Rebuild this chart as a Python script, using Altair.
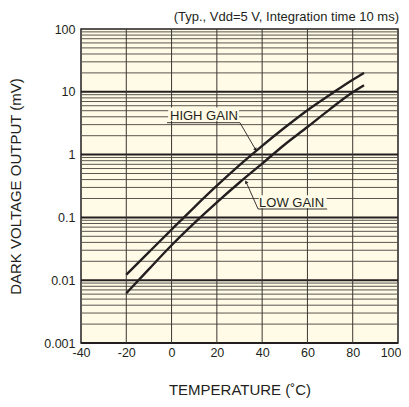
import altair as alt
import pandas as pd

# ---- data ----
temps = [-20, -10, 0, 10, 20, 30, 40, 50, 60, 70, 80, 85]
high_gain = [0.0122, 0.028, 0.064, 0.145, 0.32, 0.68, 1.38, 2.7, 5.1, 9.0, 15.6, 20.0]
low_gain = [0.0062, 0.0150, 0.036, 0.081, 0.174, 0.36, 0.72, 1.45, 2.75, 5.3, 9.8, 12.7]

x_ticks = [-40, -20, 0, 20, 40, 60, 80, 100]
y_ticks = [0.001, 0.01, 0.1, 1, 10, 100]
x_grid = [-20, 0, 20, 40, 60, 80]
decades = [0.001, 0.01, 0.1, 1, 10]
minor_steps = [2, 3, 4, 5, 6, 7, 8, 9]

# annotation labels (data coordinates)
label_text = ["HIGH GAIN", "LOW GAIN"]
label_x = [14.3, 53.0]
label_y = [3.55, 0.149]
mask_x = [-1.5, 38.5]
mask_x2 = [29.8, 68.5]
mask_y = [5.6, 0.225]
mask_y2 = [3.45, 0.140]
leader_x = [-2.0, 30.2, 37.0, 68.7, 38.2, 33.0]
leader_y = [3.22, 3.22, 1.22, 0.136, 0.136, 0.36]
leader_id = ["h", "h", "h", "l", "l", "l"]
arrow_x = [37.0, 33.0]
arrow_y = [1.22, 0.36]
arrow_angle = [150, 330]

subtitle = ["(Typ., Vdd=5 V, Integration time 10 ms)"]

FONT = "Liberation Sans"
INK = "#231F20"
BG = "#FFFBE6"

curves = pd.DataFrame(
    {"t": temps * 2, "v": high_gain + low_gain,
     "s": ["HIGH GAIN"] * len(temps) + ["LOW GAIN"] * len(temps)}
)
minor_vals = [d * m for d in decades for m in minor_steps]

xs = alt.Scale(domain=[-40, 100], nice=False, zero=False)
ys = alt.Scale(type="log", domain=[0.001, 100], nice=False)

xax = alt.Axis(values=x_ticks, title="TEMPERATURE (˚C)", grid=False, ticks=False,
               domain=False, labelExpr="'' + datum.value", labelFont=FONT, labelFontSize=12.5,
               labelColor=INK, labelPadding=3, titleFont=FONT, titleFontSize=15,
               titleFontWeight="normal", titleColor=INK, titlePadding=24, labelFlush=False,
               labelAlign={"condition": {"test": "datum.value == 100", "value": "right"},
                           "value": "center"},
               labelOffset={"condition": {"test": "datum.value == 100", "value": 3},
                            "value": 0})
yax = alt.Axis(values=y_ticks, title="DARK VOLTAGE OUTPUT (mV)", grid=False, ticks=False,
               domain=False, format="~g", labelFont=FONT, labelFontSize=12.5, labelColor=INK,
               labelPadding=6, titleFont=FONT, titleFontSize=15, titleFontWeight="normal",
               titleColor=INK, titlePadding=20)

minor = alt.Chart(pd.DataFrame({"v": minor_vals})).mark_rule(
    color="#5a5650", strokeWidth=1).encode(y=alt.Y("v:Q", scale=ys, axis=yax))
major = alt.Chart(pd.DataFrame({"v": decades})).mark_rule(
    color=INK, strokeWidth=2).encode(y=alt.Y("v:Q", scale=ys))
vert = alt.Chart(pd.DataFrame({"t": x_grid})).mark_rule(
    color="#3a3632", strokeWidth=1).encode(x=alt.X("t:Q", scale=xs, axis=xax))

masks = alt.Chart(pd.DataFrame({"x": mask_x, "x2": mask_x2, "y": mask_y, "y2": mask_y2})).mark_rect(
    color=BG).encode(x=alt.X("x:Q", scale=xs), x2="x2", y=alt.Y("y:Q", scale=ys), y2="y2")

lines = alt.Chart(curves).mark_line(color=INK, strokeWidth=2.4, interpolate="monotone").encode(
    x=alt.X("t:Q", scale=xs), y=alt.Y("v:Q", scale=ys), detail="s:N")

leaders = alt.Chart(pd.DataFrame({"x": leader_x, "y": leader_y, "id": leader_id,
                                  "o": list(range(len(leader_x)))})).mark_line(
    color=INK, strokeWidth=0.9).encode(
    x=alt.X("x:Q", scale=xs), y=alt.Y("y:Q", scale=ys), detail="id:N", order="o:Q")

arrows = alt.Chart(pd.DataFrame({"x": arrow_x, "y": arrow_y, "a": arrow_angle})).mark_point(
    shape="triangle", filled=True, color=INK, size=14, opacity=1).encode(
    x=alt.X("x:Q", scale=xs), y=alt.Y("y:Q", scale=ys), angle=alt.Angle("a:Q", scale=None))

labels = alt.Chart(pd.DataFrame({"x": label_x, "y": label_y, "t": label_text})).mark_text(
    font=FONT, fontSize=13, color=INK, baseline="alphabetic", align="center").encode(
    x=alt.X("x:Q", scale=xs), y=alt.Y("y:Q", scale=ys), text="t:N")

sub = alt.Chart(pd.DataFrame({"t": subtitle})).mark_text(
    font=FONT, fontSize=13, color=INK, baseline="alphabetic", align="right").encode(
    x=alt.value(318), y=alt.value(-8), text="t:N")

chart = alt.layer(minor, major, vert, masks, lines, leaders, arrows, labels, sub).properties(
    width=317, height=314,
    autosize=alt.AutoSizeParams(type="none"),
    padding={"left": 73, "top": 21, "right": 3, "bottom": 56},
).configure_view(fill=BG, stroke=INK, strokeWidth=1.5)

chart.save("out.html", embed_options={"renderer": "svg", "actions": False})
